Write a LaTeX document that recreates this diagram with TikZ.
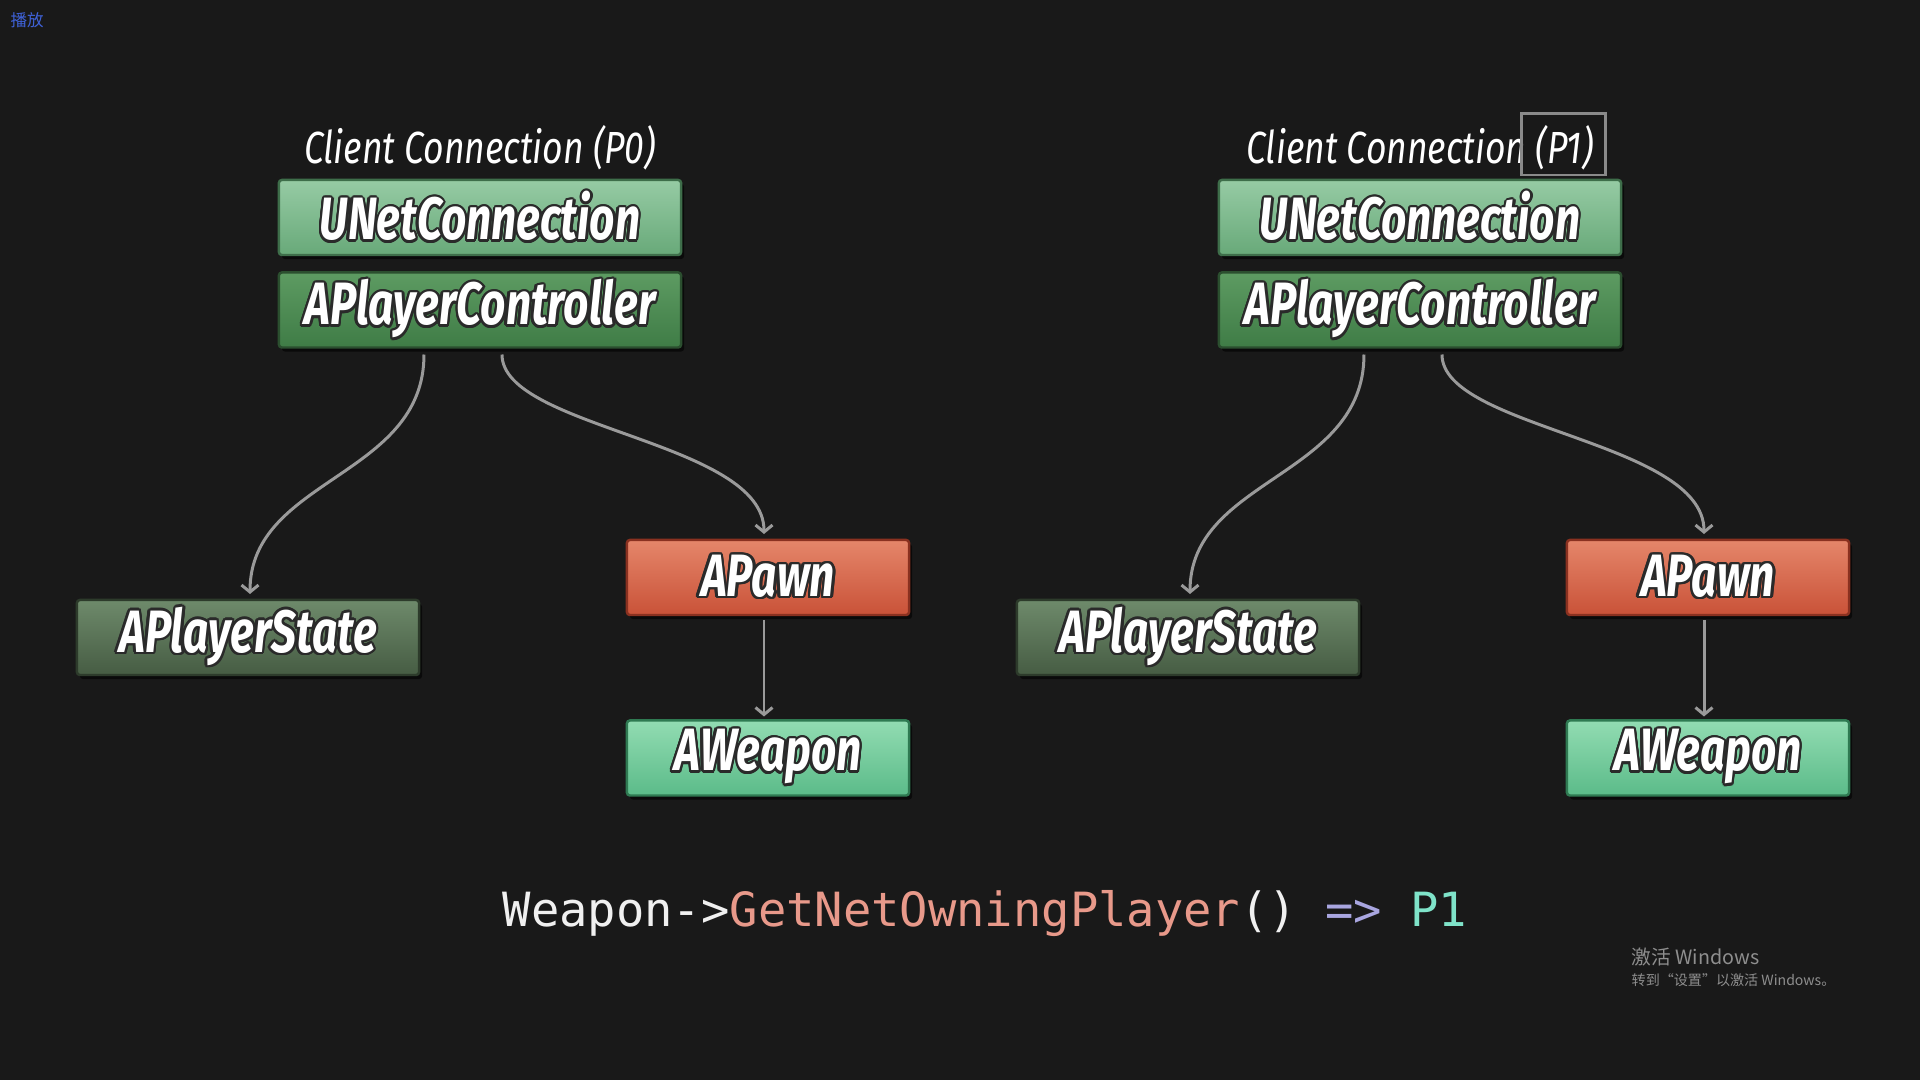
\documentclass[tikz,border=0pt]{standalone}
\usepackage{fontspec}
\usepackage[copies]{contour}
\usetikzlibrary{arrows.meta,calc,shadows}

\newfontfamily\boxfont[FakeStretch=0.74]{Fira Sans}
\newfontfamily\titlefont[FakeStretch=0.79]{Fira Sans}
\newfontfamily\codefont{DejaVu Sans Mono}
\newfontfamily\cjk{Noto Sans CJK SC}

\definecolor{bgDark}{HTML}{191919}
\definecolor{netTop}{HTML}{96CBA4}
\definecolor{netBot}{HTML}{68A979}
\definecolor{netLine}{HTML}{3E6E4A}
\definecolor{pcTop}{HTML}{5D9B62}
\definecolor{pcBot}{HTML}{3F7C46}
\definecolor{pcLine}{HTML}{2B4F2F}
\definecolor{psTop}{HTML}{6E8A6B}
\definecolor{psBot}{HTML}{465C43}
\definecolor{psLine}{HTML}{2D3B2B}
\definecolor{pawnTop}{HTML}{E5866A}
\definecolor{pawnBot}{HTML}{C95238}
\definecolor{pawnLine}{HTML}{8A3120}
\definecolor{wpTop}{HTML}{92DCB2}
\definecolor{wpBot}{HTML}{5BBB89}
\definecolor{wpLine}{HTML}{2F7A52}
\definecolor{linkGray}{HTML}{9A9A9A}
\definecolor{markGray}{HTML}{8A8A8A}
\definecolor{txtShade}{HTML}{2A2A2A}
\definecolor{codeWhite}{HTML}{F0F0F0}
\definecolor{codeSalmon}{HTML}{E8998A}
\definecolor{codeLav}{HTML}{A9A6E0}
\definecolor{codeAqua}{HTML}{7FE3C9}
\definecolor{playBlue}{HTML}{3F62D8}
\definecolor{winGray}{HTML}{8E8E8E}

\contourlength{0.7pt}
\newcommand{\boxtext}[1]{\contour{txtShade}{#1}}

\tikzset{
    box/.style={draw, line width=0.7pt, rounded corners=0.03cm, inner sep=0pt, outer sep=0pt,
        minimum height=0.75cm, text=white,
        font=\boxfont\bfseries\itshape\fontsize{17}{20}\selectfont,
        drop shadow={fill=black, opacity=0.6, shadow xshift=0.03cm, shadow yshift=-0.04cm}},
    netbox/.style={box, top color=netTop, bottom color=netBot, draw=netLine, minimum width=4.02cm},
    ctrlbox/.style={box, top color=pcTop, bottom color=pcBot, draw=pcLine, minimum width=4.02cm},
    statebox/.style={box, top color=psTop, bottom color=psBot, draw=psLine, minimum width=3.42cm},
    pawnbox/.style={box, top color=pawnTop, bottom color=pawnBot, draw=pawnLine, minimum width=2.82cm},
    weaponbox/.style={box, top color=wpTop, bottom color=wpBot, draw=wpLine, minimum width=2.82cm},
    title/.style={text=white, inner sep=0pt, font=\titlefont\itshape\fontsize{12.8}{15}\selectfont},
    link/.style={draw=linkGray, line width=0.85pt, -{Straight Barb[length=0.07cm, width=0.17cm]}},
}

\begin{document}
\begin{tikzpicture}[x=0.01cm, y=-0.01cm]
    \fill[bgDark] (0,0) rectangle (1920,1080);
    \useasboundingbox (0,0) rectangle (1920,1080);

    \node[anchor=west, inner sep=0pt, text=playBlue, font=\cjk\fontsize{4.7}{5}\selectfont] (play) at (10,20) {播放};

    % client P0
    \begin{scope}
        \node[title] (title0) at (480,148) {Client Connection (P0)};
        \node[netbox] (uc0) at (480,217.5) {\boxtext{UNetConnection}};
        \node[ctrlbox] (pc0) at (480,310) {\boxtext{APlayerController}};
        \node[statebox] (ps0) at (248,637.5) {\boxtext{APlayerState}};
        \node[pawnbox] (pw0) at (768,577.5) {\boxtext{APawn}};
        \node[weaponbox] (wp0) at (768,758) {\boxtext{AWeapon}};
    \end{scope}

    % client P1
    \begin{scope}
        \node[title] (title1) at (1420,148) {Client Connection (P1)};
        \node[draw=markGray, line width=0.85pt, inner sep=0pt, minimum width=0.83cm, minimum height=0.61cm] (p1mark) at (1563.5,144.5) {};
        \node[netbox] (uc1) at (1420,217.5) {\boxtext{UNetConnection}};
        \node[ctrlbox] (pc1) at (1420,310) {\boxtext{APlayerController}};
        \node[statebox] (ps1) at (1188,637.5) {\boxtext{APlayerState}};
        \node[pawnbox] (pw1) at (1708,577.5) {\boxtext{APawn}};
        \node[weaponbox] (wp1) at (1708,758) {\boxtext{AWeapon}};
    \end{scope}

    \begin{scope}[every path/.style={link}]
        \path ($(pc0.south)+(-56,7)$) .. controls +(0,123) and +(0,-116) .. ($(ps0.north)+(2,-6)$);
        \path ($(pc0.south)+(22,7)$) .. controls +(0,74) and +(0,-93) .. ($(pw0.north)+(-4,-6)$);
        \path ($(pw0.south)+(-4,5)$) -- ($(wp0.north)+(-4,-4)$);

        \path ($(pc1.south)+(-56,7)$) .. controls +(0,123) and +(0,-116) .. ($(ps1.north)+(2,-6)$);
        \path ($(pc1.south)+(22,7)$) .. controls +(0,74) and +(0,-93) .. ($(pw1.north)+(-4,-6)$);
        \path ($(pw1.south)+(-4,5)$) -- ($(wp1.north)+(-4,-4)$);
    \end{scope}

    \node[anchor=base west, inner sep=0pt, font=\codefont\fontsize{13.4}{16}\selectfont] (code) at (502,927)
        {\textcolor{codeWhite}{Weapon->}\textcolor{codeSalmon}{GetNetOwningPlayer}\textcolor{codeWhite}{()} \textcolor{codeLav}{=>} \textcolor{codeAqua}{P1}};

    \node[anchor=base west, inner sep=0pt, text=winGray, font=\cjk\fontsize{5.6}{6}\selectfont] (win1) at (1631,965) {激活 Windows};
    \node[anchor=base west, inner sep=0pt, text=winGray, font=\cjk\fontsize{4}{5}\selectfont] (win2) at (1631,986) {转到“设置”以激活 Windows。};
\end{tikzpicture}
\end{document}
